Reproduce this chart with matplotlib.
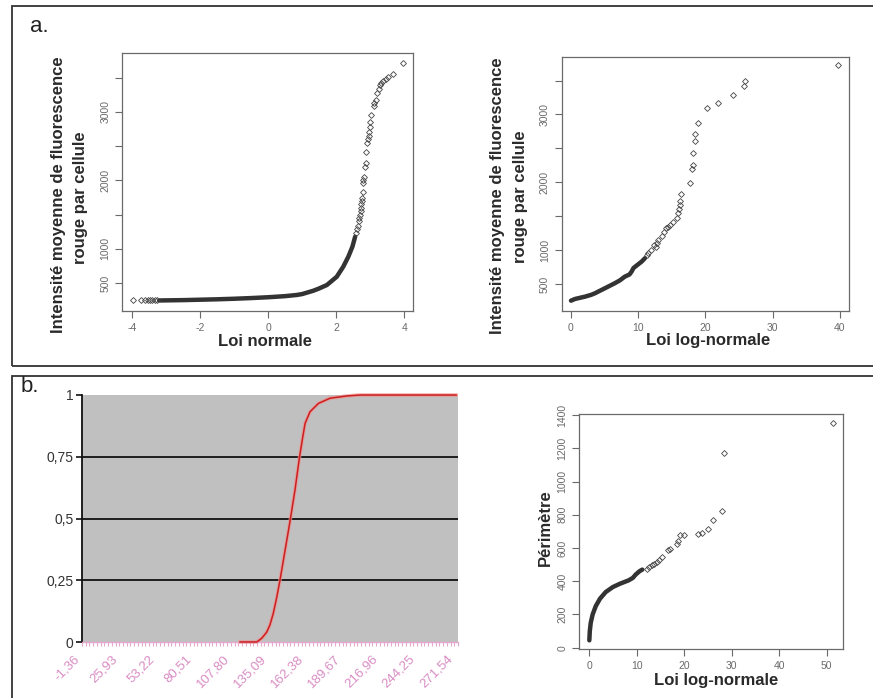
import numpy as np
import matplotlib.pyplot as plt
from matplotlib.patches import Rectangle
from matplotlib.transforms import ScaledTranslation

plt.rcParams['font.family'] = ['Liberation Sans', 'DejaVu Sans']
plt.rcParams['axes.unicode_minus'] = False

W, H = 873, 698

# panel a, left: QQ plot against the normal law
norm_line_x = [-3.2, -2.5, -2.0, -1.5, -1.0, -0.5, 0.0, 0.5, 0.84, 1.0, 1.33, 1.5,
               1.73, 2.02, 2.21, 2.36, 2.48, 2.56]
norm_line_y = [245, 250, 256, 262, 270, 280, 292, 308, 325, 338, 387, 420,
               471, 592, 738, 885, 1031, 1177]
norm_pts_x = [-3.98, -3.72, -3.62, -3.54, -3.47, -3.40, -3.32, -3.26,
              2.58, 2.61, 2.63, 2.66, 2.68, 2.70, 2.72, 2.73, 2.74, 2.75, 2.76,
              2.79, 2.78, 2.79, 2.82, 2.86, 2.88, 2.89, 2.92, 2.93, 2.96, 2.98,
              3.00, 3.01, 3.04, 3.10, 3.12, 3.17, 3.21, 3.26, 3.29, 3.33, 3.39,
              3.46, 3.53, 3.66, 3.96]
norm_pts_y = [245, 245, 245, 246, 246, 246, 247, 247,
              1230, 1290, 1340, 1400, 1450, 1500, 1550, 1600, 1650, 1700, 1738,
              1835, 1958, 2006, 2054, 2200, 2250, 2420, 2551, 2601, 2649, 2712,
              2785, 2858, 2956, 3088, 3127, 3175, 3282, 3336, 3389, 3419, 3453,
              3482, 3507, 3556, 3721]

# panel a, right: QQ plot against the log-normal law
lnorm_line_x = [0.0, 0.6, 1.5, 2.08, 3.0, 3.57, 4.3, 5.05, 5.8, 6.5, 7.3, 8.0,
                8.7, 9.0, 9.3, 9.8, 10.5, 11.0]
lnorm_line_y = [254, 279, 300, 313, 340, 363, 400, 437, 475, 510, 555, 608,
                640, 680, 735, 775, 829, 880]
lnorm_pts_x = [11.25, 11.5, 11.9, 12.4, 12.7, 12.8, 13.0, 13.5, 13.8, 14.2, 14.5,
               14.8, 15.2, 15.8, 15.95, 16.1, 16.2, 16.25, 16.3, 17.7, 18.0,
               18.2, 18.2, 18.4, 18.5, 18.9, 20.3, 21.8, 24.1, 25.8, 25.9, 39.7]
lnorm_pts_y = [928, 960, 1000, 1075, 1050, 1100, 1149, 1208, 1271, 1321, 1340,
               1370, 1419, 1469, 1543, 1602, 1665, 1729, 1827, 1994, 2192,
               2255, 2437, 2609, 2708, 2870, 3100, 3165, 3288, 3420, 3498, 3725]

# panel b, left: cumulative distribution (Excel style)
cdf_x = [113.1, 125.4, 129.0, 132.7, 135.1, 137.5, 140.0, 142.4, 146.1, 149.8,
         153.4, 156.6, 159.1, 160.8, 164.4, 170.6, 179.1, 191.3, 201.0, 271.54]
cdf_y = [0.0, 0.0, 0.015, 0.04, 0.07, 0.116, 0.18, 0.25, 0.37, 0.49,
         0.615, 0.744, 0.83, 0.885, 0.932, 0.966, 0.987, 0.996, 1.0, 1.0]
cdf_ticks = [-1.36, 25.93, 53.22, 80.51, 107.80, 135.09, 162.38, 189.67,
             216.96, 244.25, 271.54]
cdf_labels = ['-1,36', '25,93', '53,22', '80,51', '107,80', '135,09', '162,38',
              '189,67', '216,96', '244,25', '271,54']
cdf_yticks = [0, 0.25, 0.5, 0.75, 1]
cdf_ylabels = ['0', '0,25', '0,5', '0,75', '1']

# panel b, right: perimeter vs log-normal law
perim_line_x = [0.05, 0.15, 0.35, 0.75, 1.4, 2.3, 3.5, 5.0, 6.5, 8.3, 9.2, 9.8,
                10.6, 11.2]
perim_line_y = [44, 100, 150, 200, 250, 295, 335, 365, 385, 405, 420, 440,
                460, 470]
perim_pts_x = [12.1, 12.6, 13.2, 13.7, 14.2, 14.7, 15.3, 16.7, 17.05, 18.5,
               18.8, 19.2, 19.9, 23.0, 23.7, 25.1, 26.0, 28.0, 28.3, 51.3]
perim_pts_y = [476, 485, 496, 505, 516, 530, 546, 586, 596, 626,
               640, 676, 676, 687, 690, 717, 771, 821, 1172, 1353]


def box(l, t, r, b):
    return [l / W, 1 - b / H, (r - l) / W, (b - t) / H]


def fpos(x, y):
    return x / W, 1 - y / H


def r_axes(ax, xticks, yticks, ylabels):
    for s in ax.spines.values():
        s.set_color('#6a6a6a')
        s.set_linewidth(0.9)
    ax.set_xticks(xticks)
    ax.set_yticks(yticks)
    ax.set_yticklabels(ylabels, rotation=90, va='center')
    ax.tick_params(colors='#6a6a6a', labelcolor='#6a6a6a', length=5,
                   width=0.8, labelsize=7.5, pad=3.5)


def qq(ax, lx, ly, px, py):
    ax.plot(lx, ly, color='#333333', lw=3.2, solid_capstyle='round')
    ax.plot(px, py, ls='none', marker='D', ms=3.0, mfc='none', mec='#444444', mew=0.6)


fig = plt.figure(figsize=(W / 100, H / 100), dpi=100)

# panel frames
fig.patches.append(Rectangle(fpos(12, 366), (875 - 12) / W, 360 / H,
                             transform=fig.transFigure, fill=False, ec='#333333', lw=1.3))
fig.patches.append(Rectangle(fpos(12, 710), (875 - 12) / W, 334 / H,
                             transform=fig.transFigure, fill=False, ec='#333333', lw=1.3))
fig.text(*fpos(30, 27), 'a.', fontsize=16, va='center', ha='left', color='#222222')
fig.text(*fpos(21, 387), 'b.', fontsize=16, va='center', ha='left', color='#222222')

lab = dict(fontsize=12, fontweight='bold', color='#2a2a2a', ha='center', va='center')

# a, left
ax1 = fig.add_axes(box(122, 53, 413, 311))
qq(ax1, norm_line_x, norm_line_y, norm_pts_x, norm_pts_y)
ax1.set_xlim(-4.29, 4.26)
ax1.set_ylim(91, 3862)
r_axes(ax1, [-4, -2, 0, 2, 4], [500, 1000, 1500, 2000, 2500, 3000, 3500],
       ['500', '1000', '', '2000', '', '3000', ''])
fig.text(*fpos(58.5, 195), 'Intensité moyenne de fluorescence', rotation=90, **lab)
fig.text(*fpos(80.5, 198), 'rouge par cellule', rotation=90, **lab)
fig.text(*fpos(265, 341), 'Loi normale', **lab)

# a, right
ax2 = fig.add_axes(box(561.7, 56.7, 849.3, 310.7))
qq(ax2, lnorm_line_x, lnorm_line_y, lnorm_pts_x, lnorm_pts_y)
ax2.set_xlim(-1.38, 41.4)
ax2.set_ylim(106, 3852)
r_axes(ax2, [0, 10, 20, 30, 40], [500, 1000, 1500, 2000, 2500, 3000, 3500],
       ['500', '1000', '', '2000', '', '3000', ''])
fig.text(*fpos(497.5, 196), 'Intensité moyenne de fluorescence', rotation=90, **lab)
fig.text(*fpos(520.5, 197), 'rouge par cellule', rotation=90, **lab)
fig.text(*fpos(708, 341), 'Loi log-normale', **lab)

# b, left
ax3 = fig.add_axes(box(82, 395, 458, 642))
ax3.set_facecolor('#c0c0c0')
for g in cdf_yticks[1:-1]:
    ax3.axhline(g, color='#111111', lw=1.3, zorder=1)
ax3.plot(cdf_x, cdf_y, color='#f09090', lw=2.6, alpha=0.7, zorder=2, clip_on=False)
ax3.plot(cdf_x, cdf_y, color='#cc1f1f', lw=1.1, zorder=3, clip_on=False)
step = 2.729
ax3.set_xlim(cdf_ticks[0] - step / 2, cdf_ticks[-1] + step / 2)
ax3.set_ylim(0, 1)
ax3.set_xticks(cdf_ticks)
ax3.set_xticks(np.arange(cdf_ticks[0] - step / 2, cdf_ticks[-1] + step, step), minor=True)
ax3.tick_params(axis='x', which='major', length=0, pad=8)
ax3.tick_params(axis='x', which='minor', length=3, color='#e4a8cf', width=0.8)
ax3.set_yticks(cdf_yticks)
ax3.set_yticklabels(cdf_ylabels, fontsize=10, color='#333333')
ax3.tick_params(axis='y', length=4, width=1.2, color='#111111', pad=2)
ax3.set_xticklabels(cdf_labels, rotation=45, ha='right', va='top',
                    rotation_mode='anchor', color='#d98cc4', fontsize=9.5)
shift = ScaledTranslation(-0.1, 0, fig.dpi_scale_trans)
for t in ax3.get_xticklabels():
    t.set_transform(t.get_transform() + shift)
for s in ['top', 'right']:
    ax3.spines[s].set_visible(False)
ax3.spines['left'].set_color('#111111')
ax3.spines['left'].set_linewidth(1.3)
ax3.spines['bottom'].set_color('#e4a8cf')
ax3.spines['bottom'].set_linewidth(1.0)

# b, right
ax4 = fig.add_axes(box(579.3, 414.3, 843.3, 649))
qq(ax4, perim_line_x, perim_line_y, perim_pts_x, perim_pts_y)
ax4.set_xlim(-2.06, 53.5)
ax4.set_ylim(-8, 1405)
r_axes(ax4, [0, 10, 20, 30, 40, 50], list(range(0, 1401, 200)),
       [str(v) for v in range(0, 1401, 200)])
fig.text(*fpos(545, 528), 'Périmètre', rotation=90, **lab)
fig.text(*fpos(716, 680), 'Loi log-normale', **lab)

fig.savefig('out.png', dpi=100)
